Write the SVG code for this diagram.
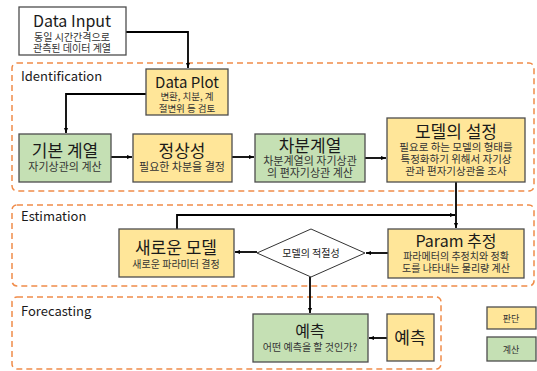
<svg xmlns="http://www.w3.org/2000/svg" width="537" height="371" viewBox="0 0 537 371">
<defs>
<marker id="ah" viewBox="0 0 10 10" refX="10" refY="5" markerWidth="5" markerHeight="5" orient="auto" markerUnits="userSpaceOnUse">
<path d="M0,1 L10,5 L0,9 z" fill="#000"/>
</marker>
</defs>
<style>
text{font-family:"Noto Sans CJK KR","Liberation Sans",sans-serif;text-anchor:middle;fill:#1a1a1a}
.region{fill:none;stroke:#F08C4A;stroke-width:1.5;stroke-dasharray:6 4}
.lab{text-anchor:start;font-size:13px}
.box{stroke:#4d4d4d;stroke-width:1.3}
.y{fill:#FFE699}
.g{fill:#C5E0B4}
.w{fill:#fff}
.t{font-size:16px}
.s{font-size:10px;fill:#333}
.conn{fill:none;stroke:#000;stroke-width:1.8}
</style>
<g id="regions">
<rect class="region" x="12" y="63" width="522" height="128" rx="5"/>
<text class="lab" x="21" y="81">Identification</text>
<rect class="region" x="12" y="205" width="522" height="81" rx="5"/>
<text class="lab" x="21" y="221">Estimation</text>
<rect class="region" x="12" y="297" width="429" height="72" rx="5"/>
<text class="lab" x="21" y="316">Forecasting</text>
</g>
<g id="connectors">
<path class="conn" d="M126,32 H188 V68" marker-end="url(#ah)"/>
<path class="conn" d="M146,94 H66 V133" marker-end="url(#ah)"/>
<path class="conn" d="M111,157 H132" marker-end="url(#ah)"/>
<path class="conn" d="M232,157 H254" marker-end="url(#ah)"/>
<path class="conn" d="M365,158 H386" marker-end="url(#ah)"/>
<path class="conn" d="M456,182 V228" marker-end="url(#ah)"/>
<path class="conn" d="M177,229 V215 H455" marker-end="url(#ah)"/>
<path class="conn" d="M388,253 H366" marker-end="url(#ah)"/>
<path class="conn" d="M257,252 H235" marker-end="url(#ah)"/>
<path class="conn" d="M310,277 V313" marker-end="url(#ah)"/>
<path class="conn" d="M387,338 H369" marker-end="url(#ah)"/>
</g>
<g id="data-input">
<rect class="box w" x="19" y="7" width="107" height="48"/>
<text class="t" x="72" y="27">Data Input</text>
<text class="s" x="72" y="41">동일 시간간격으로</text>
<text class="s" x="72" y="52">관측된 데이터 계열</text>
</g>
<g id="data-plot">
<rect class="box y" x="146" y="69" width="82" height="46"/>
<text class="t" x="187" y="88" style="font-size:15px">Data Plot</text>
<text class="s" x="187" y="100" style="font-size:9.5px">변환, 치분, 계</text>
<text class="s" x="187" y="112" style="font-size:9.5px">절변위 등 검토</text>
</g>
<g id="basic-series">
<rect class="box g" x="19" y="134" width="92" height="48"/>
<text class="t" x="65" y="157" style="font-size:17px">기본 계열</text>
<text class="s" x="65" y="171" style="font-size:11px">자기상관의 계산</text>
</g>
<g id="stationarity">
<rect class="box y" x="133" y="134" width="99" height="48"/>
<text class="t" x="182" y="157" style="font-size:17px">정상성</text>
<text class="s" x="182" y="171" style="font-size:11px">필요한 차분을 결정</text>
</g>
<g id="diff-series">
<rect class="box g" x="255" y="134" width="110" height="48"/>
<text class="t" x="310" y="152" style="font-size:17px">차분계열</text>
<text class="s" x="310" y="165" style="font-size:11px">차분계열의 자기상관</text>
<text class="s" x="310" y="177" style="font-size:11px">의 편자기상관 계산</text>
</g>
<g id="model-spec">
<rect class="box y" x="387" y="118" width="138" height="64"/>
<text class="t" x="456" y="138" style="font-size:17px">모델의 설정</text>
<text class="s" x="456" y="151" style="font-size:10.5px">필요로 하는 모델의 형태를</text>
<text class="s" x="456" y="163" style="font-size:10.5px">특정화하기 위해서 자기상</text>
<text class="s" x="456" y="175" style="font-size:10.5px">관과 편자기상관을 조사</text>
</g>
<g id="new-model">
<rect class="box y" x="119" y="229" width="115" height="48"/>
<text class="t" x="176" y="254" style="font-size:17px">새로운 모델</text>
<text class="s" x="176" y="268">새로운 파라미터 결정</text>
</g>
<g id="adequacy">
<polygon points="311,229 365,253 311,277 257,253" fill="#fff" stroke="#333" stroke-width="1"/>
<text class="s" x="311" y="257" style="fill:#1a1a1a">모델의 적절성</text>
</g>
<g id="param-est">
<rect class="box y" x="388" y="229" width="136" height="49"/>
<text class="t" x="456" y="247">Param 추정</text>
<text class="s" x="456" y="260">파라메터의 추정치와 정확</text>
<text class="s" x="456" y="272">도를 나타내는 물리량 계산</text>
</g>
<g id="forecast-calc">
<rect class="box g" x="253" y="314" width="115" height="48"/>
<text class="t" x="310" y="337">예측</text>
<text class="s" x="310" y="351">어떤 예측을 할 것인가?</text>
</g>
<g id="forecast-judge">
<rect class="box y" x="387" y="314" width="47" height="47"/>
<text class="t" x="410" y="344" style="font-size:17px">예측</text>
</g>
<g id="legend">
<rect class="box y" x="487" y="307" width="49" height="22"/>
<text class="s" x="511" y="322" style="font-size:9px">판단</text>
<rect class="box g" x="487" y="337" width="49" height="24"/>
<text class="s" x="511" y="353" style="font-size:9px">계산</text>
</g>
</svg>
